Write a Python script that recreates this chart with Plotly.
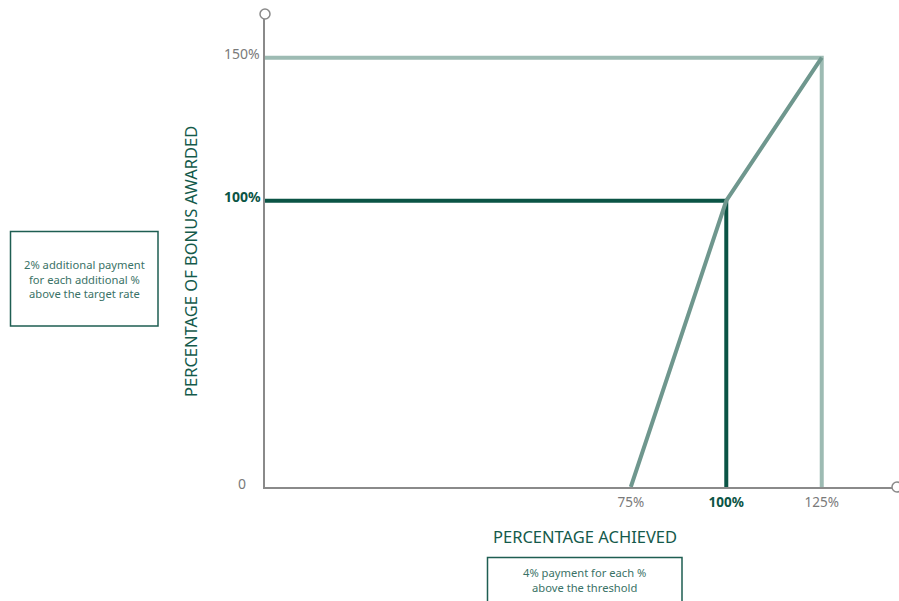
import plotly.graph_objects as go

# ---- data ----
achieved_pct = [75, 100, 125]          # % achieved (threshold, target, max)
awarded_pct = [0, 100, 150]            # % of bonus awarded
x_tick_vals = [75, 100, 125]
x_tick_text = ["75%", "100%", "125%"]
y_tick_vals = [0, 100, 150]
y_tick_text = ["0", "100%", "150%"]
bold_tick = "100%"
note_left = ["2% additional payment", "for each additional %", "above the target rate"]
note_bottom = ["4% payment for each %", "above the threshold"]
x_title = "PERCENTAGE ACHIEVED"
y_title = "PERCENTAGE OF BONUS AWARDED"

X_RANGE = [-20.8, 143.4]
Y_RANGE = [0, 163.5]

LIGHT = "#9dbbb3"
MID = "#6f978e"
DARK = "#0b5445"
AXIS = "#8a8a8a"
TXT = "#145a4b"
TICK = "#7a7a7a"
BOXTXT = "#3a7266"
BORDER = "#1e5e52"
FONT = "Noto Sans"

fig = go.Figure()

# max guide (light)
fig.add_trace(go.Scatter(
    x=[X_RANGE[0], achieved_pct[2], achieved_pct[2]],
    y=[awarded_pct[2], awarded_pct[2], awarded_pct[0]],
    mode="lines", line=dict(color=LIGHT, width=4), cliponaxis=False,
    hoverinfo="skip"))
# target guide (dark)
fig.add_trace(go.Scatter(
    x=[X_RANGE[0], achieved_pct[1], achieved_pct[1]],
    y=[awarded_pct[1], awarded_pct[1], awarded_pct[0]],
    mode="lines", line=dict(color=DARK, width=4), cliponaxis=False,
    hoverinfo="skip"))
# payout curve
fig.add_trace(go.Scatter(
    x=achieved_pct, y=awarded_pct,
    mode="lines", line=dict(color=MID, width=4), cliponaxis=False,
    hoverinfo="skip"))


def fmt(t):
    if t == bold_tick:
        return "<span style='color:%s'><b>%s</b></span>" % (DARK, t)
    return t


fig.update_layout(
    width=899, height=601,
    margin=dict(l=265, r=7, t=19, b=114),
    paper_bgcolor="white", plot_bgcolor="white",
    showlegend=False,
    font=dict(family=FONT, size=13, color=TICK),
    xaxis=dict(range=X_RANGE, showgrid=False, zeroline=False,
               showline=True, linecolor=AXIS, linewidth=1.5,
               tickvals=x_tick_vals, ticktext=[fmt(t) for t in x_tick_text], ticks="",
               tickfont=dict(family=FONT, size=13.5, color=TICK),
               ticklabelstandoff=2),
    yaxis=dict(range=Y_RANGE, showgrid=False, zeroline=False,
               showline=True, linecolor=AXIS, linewidth=1.5,
               tickvals=y_tick_vals, showticklabels=False, ticks=""),
)

# y tick labels (centred in the gutter, slightly above their level)
for v, t in zip(y_tick_vals, y_tick_text):
    fig.add_annotation(text=fmt(t), xref="paper", yref="y", x=-(265 - 242) / (899 - 265 - 7),
                       y=v, yshift=4, showarrow=False, xanchor="center", yanchor="middle",
                       font=dict(family=FONT, size=14, color=TICK))

# axis end circles
fig.add_shape(type="circle", xref="paper", yref="paper",
              xsizemode="pixel", ysizemode="pixel", xanchor=0, yanchor=1,
              x0=-5, x1=5, y0=0, y1=10,
              line=dict(color=AXIS, width=1.5), fillcolor="white")
fig.add_shape(type="circle", xref="paper", yref="paper",
              xsizemode="pixel", ysizemode="pixel", xanchor=1, yanchor=0,
              x0=0, x1=10, y0=-5, y1=5,
              line=dict(color=AXIS, width=1.5), fillcolor="white")

pw, ph = 899 - 265 - 7, 601 - 19 - 114


def px(xp):
    return (xp - 265) / pw


def py(yp):
    return (487 - yp) / ph


# axis titles
fig.add_annotation(text=x_title, xref="paper", yref="paper", x=px(584.5), y=py(536),
                   showarrow=False, xanchor="center", yanchor="middle",
                   font=dict(family=FONT, size=16.5, color=TXT))
fig.add_annotation(text=y_title, xref="paper", yref="paper", x=px(190), y=py(262),
                   showarrow=False, xanchor="center", yanchor="middle", textangle=-90,
                   font=dict(family=FONT, size=16.5, color=TXT))

# note boxes
fig.add_shape(type="rect", xref="paper", yref="paper",
              x0=px(10.5), x1=px(158), y0=py(326), y1=py(231.5),
              line=dict(color=BORDER, width=1.5), fillcolor="white")
fig.add_shape(type="rect", xref="paper", yref="paper",
              x0=px(487.5), x1=px(682), y0=py(606), y1=py(557.5),
              line=dict(color=BORDER, width=1.5), fillcolor="white")

fig.add_annotation(text="<br>".join(note_left), xref="paper", yref="paper",
                   x=px(84.5), y=py(279), showarrow=False,
                   xanchor="center", yanchor="middle", align="center",
                   font=dict(family=FONT, size=11.2, color=BOXTXT))
fig.add_annotation(text="<br>".join(note_bottom), xref="paper", yref="paper",
                   x=px(584.5), y=py(580), showarrow=False,
                   xanchor="center", yanchor="middle", align="center",
                   font=dict(family=FONT, size=11.2, color=BOXTXT))

fig.write_html("out.html")
